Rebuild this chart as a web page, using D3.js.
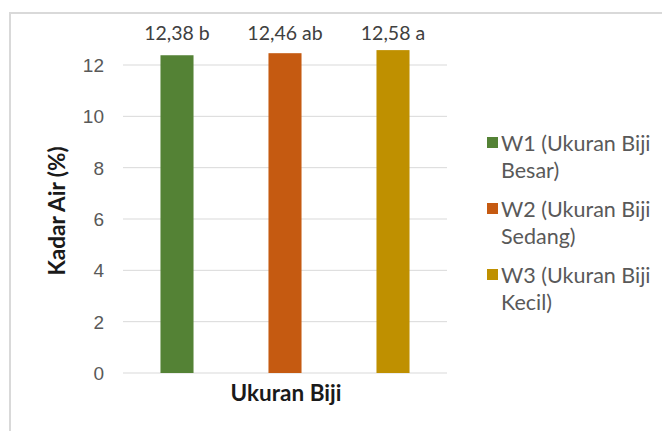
<!DOCTYPE html>
<html lang="id">
<head>
  <meta charset="UTF-8">
  <title>Kadar Air per Ukuran Biji</title>
  <script src="https://d3js.org/d3.v7.min.js"></script>
  <style>
    body {
      margin: 0;
      background: #fff;
      font-family: Lato, 'Open Sans', sans-serif;
    }
    svg { display: block; }
    .tick text { fill: #595959; font-size: 19px; }
    .grid line { stroke: #d9d9d9; }
    .title { font-weight: 700; fill: #1a1a1a; font-size: 22.5px; }
    .val { fill: #404040; font-size: 19.5px; }
    .leg { fill: #595959; font-size: 21.5px; }
  </style>
</head>
<body>
  <svg id="chart" width="662" height="431"></svg>

  <script>
    // data
    const categories = ['W1 (Ukuran Biji Besar)', 'W2 (Ukuran Biji Sedang)', 'W3 (Ukuran Biji Kecil)'];
    const values = [12.38, 12.46, 12.58];
    const letters = ['b', 'ab', 'a'];
    const legendLines = [['W1 (Ukuran Biji', 'Besar)'], ['W2 (Ukuran Biji', 'Sedang)'], ['W3 (Ukuran Biji', 'Kecil)']];
    const yTicks = [0, 2, 4, 6, 8, 10, 12];
    const colors = ['#548235', '#c55a11', '#bf9000'];

    const svg = d3.select('#chart');

    // outer chart border (runs off the right and bottom edges)
    svg.append('rect')
      .attr('x', 10).attr('y', 13)
      .attr('width', 700).attr('height', 500)
      .attr('fill', 'none')
      .attr('stroke', '#d9d9d9')
      .attr('stroke-width', 2);

    const x = d3.scaleBand()
      .domain(categories)
      .range([123, 447])
      .paddingInner(0.694)
      .paddingOuter(0.347);

    const y = d3.scaleLinear()
      .domain([0, 12])
      .range([373, 65]);

    // gridlines
    svg.append('g').attr('class', 'grid')
      .selectAll('line')
      .data(yTicks)
      .join('line')
      .attr('x1', 123).attr('x2', 447)
      .attr('y1', d => y(d)).attr('y2', d => y(d));

    // y axis labels
    const yAxis = svg.append('g')
      .attr('transform', 'translate(104,0)')
      .call(d3.axisLeft(y).tickValues(yTicks).tickSize(0).tickPadding(0));
    yAxis.select('.domain').remove();
    yAxis.selectAll('text').attr('dy', '0.35em').style('font-family', 'inherit');

    // bars
    svg.selectAll('.bar')
      .data(values)
      .join('rect')
      .attr('class', 'bar')
      .attr('x', (d, i) => x(categories[i]))
      .attr('width', x.bandwidth())
      .attr('y', d => y(d))
      .attr('height', d => y(0) - y(d))
      .attr('fill', (d, i) => colors[i]);

    // value labels
    svg.selectAll('.val')
      .data(values)
      .join('text')
      .attr('class', 'val')
      .attr('x', (d, i) => x(categories[i]) + x.bandwidth() / 2)
      .attr('y', 40)
      .attr('text-anchor', 'middle')
      .text((d, i) => d.toFixed(2).replace('.', ',') + ' ' + letters[i]);

    // axis titles
    svg.append('text')
      .attr('class', 'title')
      .attr('x', 286).attr('y', 401)
      .attr('text-anchor', 'middle')
      .text('Ukuran Biji');

    svg.append('text')
      .attr('class', 'title')
      .attr('transform', 'translate(65,211) rotate(-90)')
      .attr('text-anchor', 'middle')
      .text('Kadar Air (%)');

    // legend
    const leg = svg.selectAll('.legItem')
      .data(legendLines)
      .join('g')
      .attr('class', 'legItem')
      .attr('transform', (d, i) => `translate(487,${143 + i * 66})`);

    leg.append('rect')
      .attr('x', 0).attr('y', -6)
      .attr('width', 11).attr('height', 11)
      .attr('fill', (d, i) => colors[i]);

    leg.each(function(lines) {
      d3.select(this).selectAll('text')
        .data(lines)
        .join('text')
        .attr('class', 'leg')
        .attr('x', 14)
        .attr('y', (d, j) => j * 27)
        .attr('dy', '0.35em')
        .text(d => d);
    });
  </script>
</body>
</html>
